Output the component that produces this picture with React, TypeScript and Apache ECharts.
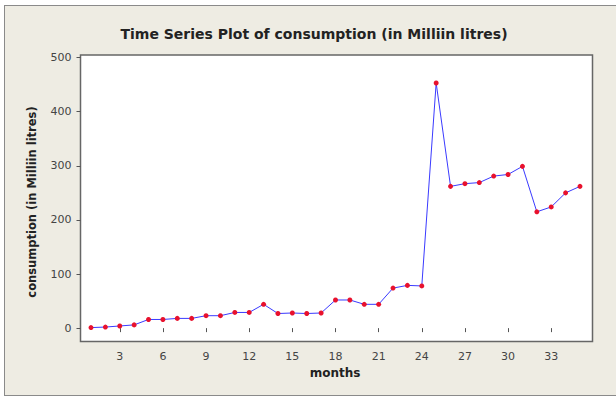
import React, { useEffect, useRef } from "react";
import * as echarts from "echarts";

const months: number[] = Array.from({ length: 35 }, (_, i) => i + 1);
const consumption: number[] = [
  1, 2, 4, 6, 16, 16, 18, 18, 23, 23, 29, 29, 44, 27, 28, 27, 28, 52, 52, 44,
  44, 74, 79, 78, 453, 262, 267, 269, 281, 284, 299, 215, 224, 250, 262,
];
const xTicks: number[] = [3, 6, 9, 12, 15, 18, 21, 24, 27, 30, 33];
const yTicks: number[] = [0, 100, 200, 300, 400, 500];
const titleText = "Time Series Plot of consumption (in Milliin litres)";
const xTitle = "months";
const yTitle = "consumption (in Milliin litres)";

export default function App() {
  const ref = useRef<HTMLDivElement>(null);
  useEffect(() => {
    if (!ref.current) return;
    const chart = echarts.init(ref.current, null, { renderer: "svg" });
    const font = "DejaVu Sans";
    chart.setOption({
      animation: false,
      backgroundColor: "transparent",
      grid: {
        left: 80.5,
        right: 23.5,
        top: 55,
        bottom: 54.5,
        containLabel: false,
        outerBoundsMode: "none",
        show: true,
        backgroundColor: "#ffffff",
        borderColor: "#666666",
        borderWidth: 1.5,
      },
      xAxis: {
        type: "value",
        min: 0.27,
        max: 35.87,
        axisLine: { show: false },
        splitLine: { show: false },
        axisTick: {
          show: true,
          inside: false,
          length: 4,
          customValues: xTicks,
          lineStyle: { color: "#555555", width: 1 },
        },
        axisLabel: {
          customValues: xTicks,
          margin: 9,
          fontFamily: font,
          fontSize: 11,
          color: "#444444",
        },
      },
      yAxis: {
        type: "value",
        min: -24.7,
        max: 504.8,
        axisLine: { show: false },
        splitLine: { show: false },
        axisTick: {
          show: true,
          inside: false,
          length: 4,
          customValues: yTicks,
          lineStyle: { color: "#555555", width: 1 },
        },
        axisLabel: {
          customValues: yTicks,
          margin: 9,
          fontFamily: font,
          fontSize: 11,
          color: "#444444",
        },
      },
      graphic: [
        {
          type: "text",
          x: 314,
          y: 34,
          style: {
            text: titleText,
            fontFamily: font,
            fontWeight: "bold",
            fontSize: 14,
            fill: "#222222",
            align: "center",
            verticalAlign: "middle",
          },
        },
        {
          type: "text",
          x: 335,
          y: 373,
          style: {
            text: xTitle,
            fontFamily: font,
            fontWeight: "bold",
            fontSize: 12,
            fill: "#222222",
            align: "center",
            verticalAlign: "middle",
          },
        },
        {
          type: "text",
          x: 32,
          y: 202,
          rotation: Math.PI / 2,
          style: {
            text: yTitle,
            fontFamily: font,
            fontWeight: "bold",
            fontSize: 11.5,
            fill: "#222222",
            align: "center",
            verticalAlign: "middle",
          },
        },
      ],
      series: [
        {
          type: "line",
          data: months.map((m, i) => [m, consumption[i]]),
          symbol: "circle",
          symbolSize: 5,
          lineStyle: { color: "#3a3aff", width: 1 },
          itemStyle: { color: "#e8112d" },
        },
      ],
    });
    return () => chart.dispose();
  }, []);

  return (
    <div style={{ position: "absolute", left: 0, top: 0, width: 616, height: 396, background: "#ffffff", overflow: "hidden" }}>
      <div
        style={{
          position: "absolute",
          left: 4,
          top: 5,
          width: 620,
          height: 389,
          background: "#eeece3",
          borderTop: "1.5px solid #8a8a8a",
          borderLeft: "1.5px solid #8a8a8a",
          borderBottom: "1.5px solid #8a8a8a",
        }}
      />
      <div ref={ref} style={{ position: "absolute", left: 0, top: 0, width: 616, height: 396 }} />
    </div>
  );
}
